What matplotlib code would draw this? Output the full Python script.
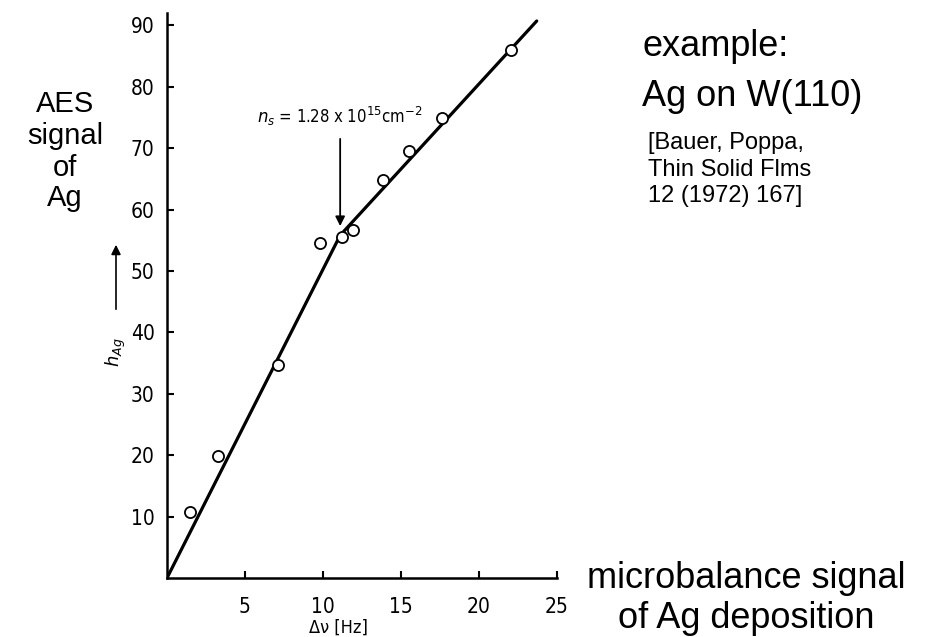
import matplotlib
matplotlib.use("Agg")
import matplotlib.pyplot as plt

# measured points (delta nu [Hz], h_Ag)
dnu = [1.5, 3.3, 7.1, 9.8, 11.2, 11.9, 13.85, 15.5, 17.6, 22.05]
h_ag = [10.8, 19.9, 34.7, 54.6, 55.5, 56.6, 64.8, 69.5, 74.9, 86.0]

# two-segment fit line
fit_x = [0, 11.1, 23.7]
fit_y = [0, 55.8, 90.7]

xticks = [5, 10, 15, 20, 25]
yticks = [10, 20, 30, 40, 50, 60, 70, 80, 90]

W, H = 934, 637
narrow = dict(family=["Liberation Sans Narrow", "DejaVu Sans"], stretch="condensed")
sans = ["Liberation Sans", "DejaVu Sans"]

fig = plt.figure(figsize=(W / 100, H / 100), dpi=100)
ax = fig.add_axes([167 / W, (H - 578) / H, 390 / W, 565 / H])

ax.plot(fit_x, fit_y, color="black", lw=2.3, solid_capstyle="round")
ax.plot(dnu, h_ag, "o", ms=8, mfc="white", mec="black", mew=1.3)

ax.set_xlim(0, 25)
ax.set_ylim(0, 92)
ax.set_xticks(xticks)
ax.set_yticks(yticks)
ax.tick_params(direction="in", length=5, width=1.5, labelsize=15)
ax.tick_params(axis="y", pad=9)
ax.tick_params(axis="x", pad=14)
for lab in ax.get_xticklabels() + ax.get_yticklabels():
    lab.set_family(narrow["family"])
    lab.set_stretch("condensed")
for s in ["top", "right"]:
    ax.spines[s].set_visible(False)
for s in ["left", "bottom"]:
    ax.spines[s].set_linewidth(1.8)

# monolayer mark
ax.annotate("", xy=(11.1, 57.3), xytext=(11.1, 71.5),
            arrowprops=dict(arrowstyle="-|>", color="black", lw=1.3,
                            mutation_scale=14, shrinkA=0, shrinkB=0))
ax.text(11.1, 73.2, r"$n_s$ = 1.28 x 10$^{15}$cm$^{-2}$", ha="center",
        va="bottom", fontsize=12, **narrow)

def px(x, y):
    return x / W, 1 - y / H

fig.text(*px(338, 628), "Δν [Hz]", ha="center", va="center", fontsize=13, **narrow)
fig.text(*px(116, 352), r"$h_{Ag}$", ha="center", va="center", fontsize=13,
         rotation=90, **narrow)
fig.patches.append(matplotlib.patches.FancyArrowPatch(
    px(116, 312), px(116, 242), transform=fig.transFigure, arrowstyle="-|>",
    mutation_scale=14, color="black", lw=1.2))

# side labels
for txt, y in zip(["AES", "signal", "of", "Ag"], [104, 136, 168, 198]):
    fig.text(*px(65, y), txt, ha="center", va="center", fontsize=21, family=sans)

fig.text(*px(642, 46), "example:", ha="left", va="center", fontsize=26, family=sans)
fig.text(*px(642, 97), "Ag on W(110)", ha="left", va="center", fontsize=26, family=sans)
for txt, y in zip(["[Bauer, Poppa,", "Thin Solid Flms", "12 (1972) 167]"], [143, 170, 196]):
    fig.text(*px(648, y), txt, ha="left", va="center", fontsize=17, family=sans)

fig.text(*px(746, 579), "microbalance signal", ha="center", va="center", fontsize=26, family=sans)
fig.text(*px(746, 618), "of Ag deposition", ha="center", va="center", fontsize=26, family=sans)

fig.savefig("out.png", dpi=100, facecolor="white")
